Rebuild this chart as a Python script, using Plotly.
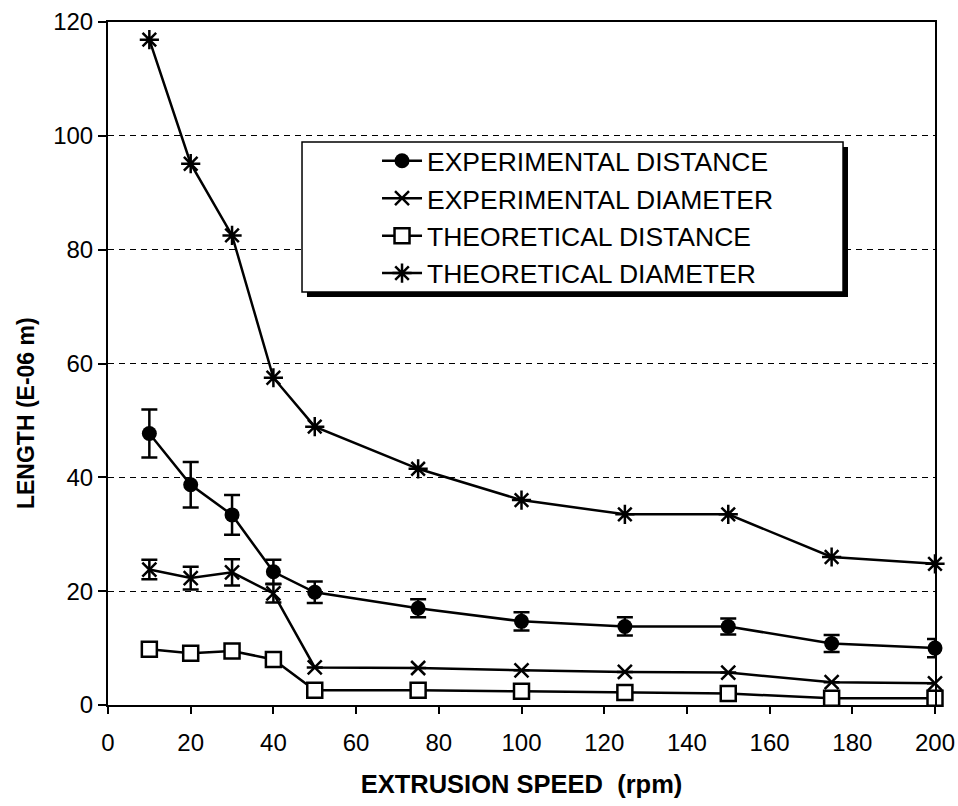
import plotly.graph_objects as go

speed = [10, 20, 30, 40, 50, 75, 100, 125, 150, 175, 200]

exp_distance = [47.7, 38.7, 33.4, 23.4, 19.8, 17.0, 14.7, 13.8, 13.8, 10.8, 10.0]
exp_distance_err = [4.2, 4.0, 3.5, 2.1, 1.9, 1.6, 1.6, 1.6, 1.4, 1.5, 1.6]

exp_diameter = [23.8, 22.3, 23.3, 19.6, 6.6, 6.5, 6.1, 5.8, 5.7, 4.0, 3.8]
exp_diameter_err = [1.7, 2.0, 2.3, 1.6, 0, 0, 0, 0, 0, 0, 0]

theo_distance = [9.8, 9.1, 9.5, 8.0, 2.6, 2.6, 2.4, 2.2, 2.0, 1.2, 1.2]

theo_diameter = [116.9, 95.1, 82.5, 57.5, 48.9, 41.5, 36.0, 33.5, 33.5, 26.0, 24.8]

x_ticks = [0, 20, 40, 60, 80, 100, 120, 140, 160, 180, 200]
y_ticks = [0, 20, 40, 60, 80, 100, 120]

FONT = "Liberation Sans, Arial, sans-serif"
LW = 2.5

fig = go.Figure()

fig.add_trace(go.Scatter(
    x=speed, y=exp_distance, name="EXPERIMENTAL DISTANCE", mode="lines+markers",
    legendgroup="a",
    line=dict(color="black", width=LW),
    marker=dict(symbol="circle", size=15, color="black"),
    error_y=dict(type="data", array=exp_distance_err, visible=True,
                 color="black", thickness=2.5, width=8),
    cliponaxis=False,
))
fig.add_trace(go.Scatter(
    x=speed, y=exp_diameter, name="EXPERIMENTAL DIAMETER", mode="lines+markers",
    legendgroup="b",
    line=dict(color="black", width=LW),
    marker=dict(symbol="x-thin-open", size=14, color="black",
                line=dict(color="black", width=2.5)),
    error_y=dict(type="data", array=exp_diameter_err, visible=True,
                 color="black", thickness=2.5, width=8),
    cliponaxis=False,
))
fig.add_trace(go.Scatter(
    x=speed, y=theo_distance, name="THEORETICAL DISTANCE", mode="lines+markers",
    legendgroup="c",
    line=dict(color="black", width=LW),
    marker=dict(symbol="square", size=15, color="white",
                line=dict(color="black", width=2.5)),
    cliponaxis=False,
))
fig.add_trace(go.Scatter(
    x=speed, y=theo_diameter, name="THEORETICAL DIAMETER", mode="lines+markers",
    legendgroup="d",
    line=dict(color="black", width=LW),
    marker=dict(symbol="asterisk-open", size=16, color="black",
                line=dict(color="black", width=2.5)),
    cliponaxis=False,
))

# legend frame with drop shadow (drawn as shapes, legend itself transparent)
fig.add_shape(type="rect", xref="paper", yref="paper",
              x0=0.2406, x1=0.8948, y0=0.5974, y1=0.8170,
              fillcolor="black", line=dict(width=0), layer="above")
fig.add_shape(type="rect", xref="paper", yref="paper",
              x0=0.2346, x1=0.8888, y0=0.6047, y1=0.8243,
              fillcolor="white", line=dict(color="black", width=1.5), layer="above")

# y-axis title
fig.add_annotation(
    text="<b>LENGTH (E-06 m)</b>", textangle=-90,
    xref="paper", yref="paper", x=0, y=0.4275,
    xanchor="center", yanchor="middle", xshift=-82, showarrow=False,
    font=dict(family=FONT, size=23, color="black"),
)

fig.update_layout(
    width=958, height=806,
    margin=dict(l=108, r=23, t=22, b=101),
    paper_bgcolor="white", plot_bgcolor="white",
    font=dict(family=FONT, color="black", size=24),
    showlegend=True,
    legend=dict(
        x=0.3253, y=0.8316, xanchor="left", yanchor="top",
        bgcolor="rgba(0,0,0,0)", borderwidth=0,
        font=dict(family=FONT, size=26.5, color="black"),
        tracegroupgap=0, itemwidth=40,
    ),
    xaxis=dict(
        range=[0, 200], tickvals=x_ticks, ticktext=[str(v) for v in x_ticks],
        showgrid=False, zeroline=False, automargin=False,
        showline=True, linecolor="black", linewidth=2, mirror=True,
        ticks="outside", ticklen=7, tickwidth=1.5, tickcolor="black",
        tickfont=dict(family=FONT, size=24, color="black"),
        ticklabelstandoff=8,
        title=dict(text="<b>EXTRUSION SPEED  (rpm)</b>",
                   font=dict(family=FONT, size=25.5, color="black"), standoff=20),
    ),
    yaxis=dict(
        range=[0, 120], tickvals=y_ticks, ticktext=[str(v) for v in y_ticks],
        showgrid=True, gridcolor="black", gridwidth=1, griddash="6px,5px",
        zeroline=False, automargin=False,
        showline=True, linecolor="black", linewidth=2, mirror=True,
        ticks="outside", ticklen=8, tickwidth=1.5, tickcolor="black",
        tickfont=dict(family=FONT, size=24, color="black"),
    ),
)

fig.write_html("out.html")
